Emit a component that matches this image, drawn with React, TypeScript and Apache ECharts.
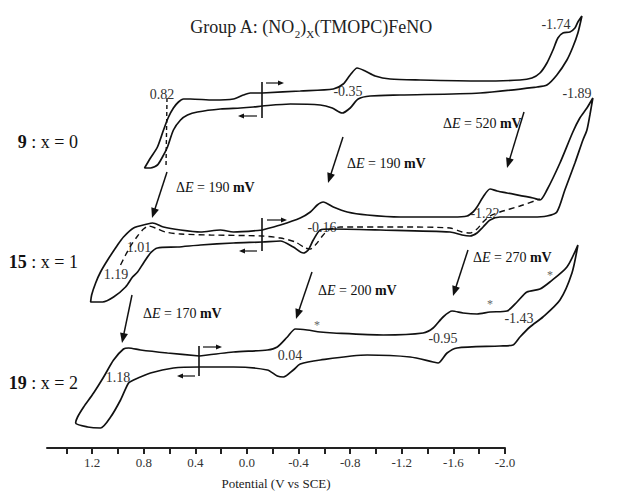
import React, { useEffect, useRef } from 'react';
import * as echarts from 'echarts';

const FONT = "'Liberation Serif', 'Times New Roman', serif";

// Printed axis (V vs SCE)
const axisMin = -2.0;
const axisMax = 1.55;
const tickValues = [1.4, 1.2, 1.0, 0.8, 0.6, 0.4, 0.2, 0.0, -0.2, -0.4, -0.6, -0.8, -1.0, -1.2, -1.4, -1.6, -1.8, -2.0];
const labelValues = [1.2, 0.8, 0.4, 0.0, -0.4, -0.8, -1.2, -1.6, -2.0];

// Cyclic voltammograms: [potential (V, on the printed axis scale), current (a.u., stacked)]
const cv9: [number, number][] = [
  [-0.119, 355], [-0.413, 357], [-0.669, 359], [-0.746, 364], [-0.800, 373], [-0.854, 380], [-0.916, 377], [-0.994, 372],
  [-1.110, 369], [-1.342, 368], [-1.807, 367], [-2.116, 368], [-2.209, 370], [-2.271, 375], [-2.325, 385], [-2.372, 398],
  [-2.410, 410], [-2.449, 415], [-2.503, 416], [-2.542, 420], [-2.565, 426], [-2.596, 432],
  [-2.565, 415], [-2.526, 401], [-2.480, 388], [-2.402, 373], [-2.325, 363], [-2.248, 361], [-1.807, 355], [-1.187, 353],
  [-0.955, 352], [-0.862, 349], [-0.800, 340], [-0.738, 335], [-0.661, 340], [-0.568, 343], [-0.336, 344], [-0.119, 342],
  [-0.050, 341], [0.051, 340], [0.206, 339], [0.384, 336], [0.461, 333], [0.515, 328], [0.570, 318], [0.616, 301],
  [0.655, 291], [0.694, 283], [0.748, 280], [0.794, 280],
  [0.748, 290], [0.694, 301], [0.647, 318], [0.608, 331], [0.570, 340], [0.531, 346], [0.492, 349], [0.438, 349],
  [0.260, 348], [0.105, 349], [0.028, 353], [-0.026, 355], [-0.119, 355],
];

const cv15: [number, number][] = [
  [-0.119, 218], [-0.259, 223], [-0.413, 230], [-0.491, 236], [-0.545, 243], [-0.591, 246], [-0.669, 241], [-0.777, 236],
  [-0.932, 233], [-1.187, 231], [-1.598, 231], [-1.706, 232], [-1.752, 236], [-1.783, 241], [-1.830, 251], [-1.884, 259],
  [-1.938, 257], [-2.015, 255], [-2.217, 250], [-2.271, 248], [-2.325, 258], [-2.426, 285], [-2.526, 316], [-2.580, 330],
  [-2.635, 340], [-2.681, 350],
  [-2.658, 333], [-2.635, 318], [-2.604, 308], [-2.542, 285], [-2.464, 258], [-2.402, 236], [-2.325, 232], [-2.217, 231],
  [-1.961, 231], [-1.884, 228], [-1.830, 221], [-1.783, 215], [-1.729, 212], [-1.667, 213], [-1.574, 216], [-1.033, 218],
  [-0.646, 219], [-0.568, 218], [-0.514, 208], [-0.475, 198], [-0.437, 195], [-0.359, 201], [-0.259, 207], [-0.119, 206],
  [0.105, 205], [0.361, 203], [0.539, 201], [0.694, 200], [0.748, 195], [0.802, 185], [0.848, 176], [0.887, 171],
  [0.941, 161], [1.034, 151], [1.119, 146], [1.212, 146],
  [1.204, 153], [1.173, 165], [1.135, 176], [1.080, 188], [1.003, 203], [0.957, 211], [0.879, 220], [0.771, 224],
  [0.732, 225], [0.647, 221], [0.515, 218], [0.361, 216], [0.206, 218], [0.105, 216], [-0.119, 218],
];

const cv15Dashed: [number, number][] = [
  [0.980, 183], [0.941, 193], [0.902, 202], [0.848, 212], [0.802, 219], [0.763, 222], [0.709, 220], [0.632, 216],
  [0.515, 214], [0.283, 213], [-0.119, 212], [-0.259, 210], [-0.375, 206], [-0.452, 200], [-0.491, 199], [-0.537, 204],
  [-0.584, 212], [-0.630, 218], [-0.723, 221], [-1.187, 221], [-1.574, 220], [-1.667, 216], [-1.729, 215], [-1.783, 219],
  [-1.830, 226], [-1.884, 232], [-1.961, 236], [-2.116, 242], [-2.271, 249],
];

const cv19: [number, number][] = [
  [0.368, 92], [0.105, 96], [-0.158, 98], [-0.235, 101], [-0.313, 111], [-0.375, 119], [-0.467, 118], [-0.568, 116],
  [-0.669, 115], [-1.056, 113], [-1.365, 115], [-1.443, 120], [-1.520, 131], [-1.590, 137], [-1.675, 135], [-1.783, 134],
  [-1.884, 136], [-2.015, 137], [-2.093, 146], [-2.170, 156], [-2.271, 159], [-2.348, 166], [-2.480, 181], [-2.565, 203],
  [-2.519, 175], [-2.426, 148], [-2.294, 131], [-2.193, 121], [-2.116, 111], [-2.062, 103], [-1.961, 102], [-1.628, 100],
  [-1.551, 95], [-1.481, 85], [-1.443, 86], [-1.265, 91], [-0.932, 93], [-0.568, 88], [-0.413, 84], [-0.359, 78],
  [-0.282, 71], [-0.235, 72], [-0.158, 78], [0.105, 81], [0.368, 81],
  [0.570, 80], [0.748, 75], [0.879, 68], [0.918, 65], [0.980, 48], [1.057, 31], [1.135, 20], [1.235, 21], [1.328, 25],
  [1.313, 31], [1.266, 41], [1.189, 55], [1.111, 71], [1.034, 88], [0.957, 99], [0.918, 100], [0.825, 98], [0.616, 95],
  [0.368, 92],
];

// Annotation texts
const peakLabels: [string, number, number][] = [
  ['0.82', 162, 94], ['-0.35', 348, 91], ['-1.74', 556, 24], ['-1.89', 577, 93],
  ['-0.16', 322, 227], ['-1.22', 485, 213], ['1.01', 139, 247], ['1.19', 116, 274],
  ['1.18', 118, 377], ['0.04', 290, 355], ['-0.95', 443, 338], ['-1.43', 519, 318],
];
const deltaLabels: [string, number, number][] = [
  ['520', 443, 123], ['190', 347, 163], ['190', 176, 187], ['270', 473, 257], ['200', 318, 290], ['170', 143, 313],
];
const compoundLabels: [string, string, number][] = [
  ['9', '0', 142], ['15', '1', 262], ['19', '2', 383],
];

const W = 624;
const H = 503;
const GRID_LEFT = 47;
const GRID_RIGHT = 119;
const GRID_BOTTOM = 55;

function arrow(x1: number, y1: number, x2: number, y2: number, head: number, half: number, width: number) {
  const dx = x2 - x1, dy = y2 - y1;
  const L = Math.hypot(dx, dy);
  const ux = dx / L, uy = dy / L;
  const bx = x2 - ux * head, by = y2 - uy * head;
  const px = -uy * half, py = ux * half;
  return [
    { type: 'line', silent: true, shape: { x1, y1, x2: bx + ux, y2: by + uy }, style: { stroke: '#111', lineWidth: width } },
    { type: 'polygon', silent: true, shape: { points: [[x2, y2], [bx + px, by + py], [bx - px, by - py]] }, style: { fill: '#111' } },
  ];
}

function vline(x: number, y1: number, y2: number) {
  return { type: 'line', silent: true, shape: { x1: x, y1, x2: x, y2 }, style: { stroke: '#111', lineWidth: 1.6 } };
}

export default function App() {
  const ref = useRef<HTMLDivElement>(null);
  useEffect(() => {
    document.body.style.margin = '0';
    if (!ref.current) return;
    const chart = echarts.init(ref.current, undefined, { renderer: 'svg' });

    // the traces extend past the printed axis: a hidden full-width axis with the same V scale
    const pxPerV = (W - GRID_LEFT - GRID_RIGHT) / (axisMax - axisMin);
    const wideMax = axisMax + GRID_LEFT / pxPerV;
    const wideMin = axisMin - GRID_RIGHT / pxPerV;

    const elements: any[] = [];
    elements.push({
      type: 'text', silent: true, x: 311, y: 27,
      style: {
        text: '{n|Group A: (NO}{s|2}{n|)}{s|X}{n|(TMOPC)FeNO}',
        align: 'center', verticalAlign: 'middle', textAlign: 'center', textVerticalAlign: 'middle',
        rich: {
          n: { fontFamily: FONT, fontSize: 18, lineHeight: 24, fill: '#222', verticalAlign: 'middle' },
          s: { fontFamily: FONT, fontSize: 11, lineHeight: 11, fill: '#222', verticalAlign: 'bottom' },
        },
      },
    });
    compoundLabels.forEach(([id, x, y]) => {
      elements.push({
        type: 'text', silent: true, x: 78, y,
        style: {
          text: `{b|${id}}{n| : x = ${x}}`,
          align: 'right', verticalAlign: 'middle', textAlign: 'right', textVerticalAlign: 'middle',
          rich: {
            b: { fontFamily: FONT, fontSize: 18, fontWeight: 'bold', fill: '#111' },
            n: { fontFamily: FONT, fontSize: 18, fill: '#111' },
          },
        },
      });
    });
    deltaLabels.forEach(([v, x, y]) => {
      elements.push({
        type: 'text', silent: true, x, y,
        style: {
          text: `{n|Δ}{i|E}{n| = ${v} }{b|mV}`,
          align: 'left', verticalAlign: 'middle', textAlign: 'left', textVerticalAlign: 'middle',
          rich: {
            n: { fontFamily: FONT, fontSize: 14, fill: '#111' },
            i: { fontFamily: FONT, fontSize: 14, fontStyle: 'italic', fill: '#111' },
            b: { fontFamily: FONT, fontSize: 14, fontWeight: 'bold', fill: '#111' },
          },
        },
      });
    });
    peakLabels.forEach(([t, x, y]) => {
      elements.push({
        type: 'text', silent: true, x, y,
        style: {
          text: t, fontFamily: FONT, fontSize: 14, fill: '#333',
          align: 'center', verticalAlign: 'middle', textAlign: 'center', textVerticalAlign: 'middle',
        },
      });
    });
    [[317, 325], [490, 304], [550, 275]].forEach(([x, y]) => {
      elements.push({
        type: 'text', silent: true, x, y,
        style: { text: '*', fontFamily: FONT, fontSize: 12, fill: '#666', align: 'center', verticalAlign: 'middle', textAlign: 'center', textVerticalAlign: 'middle' },
      });
    });
    elements.push({ type: 'line', silent: true, shape: { x1: 167, y1: 98, x2: 166, y2: 168 }, style: { stroke: '#111', lineWidth: 1.4, lineDash: [4, 3] } });
    elements.push(...arrow(167, 172, 152, 218, 10, 4, 1.5));
    elements.push(...arrow(343, 137, 328, 183, 10, 4, 1.5));
    elements.push(...arrow(524, 112, 507, 168, 10, 4, 1.5));
    elements.push(...arrow(132, 295, 122, 343, 10, 4, 1.5));
    elements.push(...arrow(312, 272, 296, 319, 10, 4, 1.5));
    elements.push(...arrow(468, 250, 453, 296, 10, 4, 1.5));
    elements.push(vline(262, 82, 118));
    elements.push(...arrow(266, 83, 284, 83, 6, 2.5, 1.2));
    elements.push(...arrow(257, 116, 238, 116, 6, 2.5, 1.2));
    elements.push(vline(262, 218, 251));
    elements.push(...arrow(267, 220, 287, 220, 6, 2.5, 1.2));
    elements.push(...arrow(257, 251, 239, 251, 6, 2.5, 1.2));
    elements.push(vline(199, 346, 376));
    elements.push(...arrow(203, 347, 222, 347, 6, 2.5, 1.2));
    elements.push(...arrow(195, 376, 177, 376, 6, 2.5, 1.2));

    const lineSeries = (data: [number, number][], dashed = false) => ({
      type: 'line',
      xAxisIndex: 1,
      yAxisIndex: 1,
      data,
      showSymbol: false,
      symbol: 'none',
      smooth: 0.25,
      silent: true,
      lineStyle: { color: '#111', width: dashed ? 1.4 : 1.7, type: dashed ? [6, 4] : 'solid' },
    });

    chart.setOption({
      animation: false,
      backgroundColor: '#ffffff',
      grid: [
        { left: GRID_LEFT, right: GRID_RIGHT, top: 0, bottom: GRID_BOTTOM },
        { left: 0, right: 0, top: 0, bottom: GRID_BOTTOM },
      ],
      xAxis: [
        {
          type: 'value',
          gridIndex: 0,
          inverse: true,
          min: axisMin,
          max: axisMax,
          name: 'Potential (V vs SCE)',
          nameLocation: 'middle',
          nameGap: 29,
          nameTextStyle: { fontFamily: FONT, fontSize: 13, color: '#222' },
          axisLine: { show: true, onZero: false, lineStyle: { color: '#222', width: 2 } },
          axisTick: { show: true, customValues: tickValues, length: 6, lineStyle: { color: '#222', width: 2 } },
          axisLabel: {
            customValues: labelValues, margin: 8, fontFamily: FONT, fontSize: 13, color: '#333',
            formatter: (v: number) => Number(v).toFixed(1),
          },
          splitLine: { show: false },
        },
        {
          type: 'value', gridIndex: 1, inverse: true, min: wideMin, max: wideMax, show: false,
          axisLine: { show: false }, axisTick: { show: false }, axisLabel: { show: false }, splitLine: { show: false },
        },
      ],
      yAxis: [
        { type: 'value', gridIndex: 0, min: 0, max: 448, show: false },
        { type: 'value', gridIndex: 1, min: 0, max: 448, show: false },
      ],
      series: [lineSeries(cv9), lineSeries(cv15), lineSeries(cv15Dashed, true), lineSeries(cv19)],
      graphic: { elements },
    });
    return () => chart.dispose();
  }, []);
  return <div ref={ref} style={{ width: W, height: H, background: '#fff' }} />;
}
